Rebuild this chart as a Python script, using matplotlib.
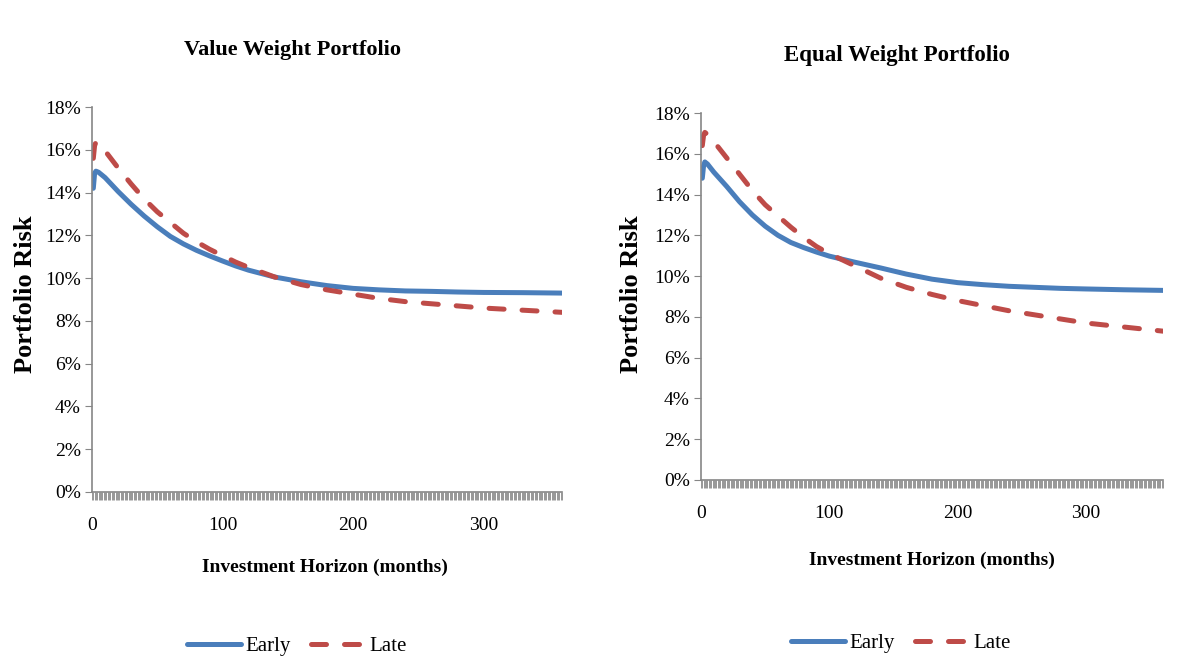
import numpy as np
import matplotlib
matplotlib.use('Agg')
import matplotlib.pyplot as plt
from matplotlib.ticker import FixedLocator, PercentFormatter

plt.rcParams['font.family'] = ['Liberation Serif', 'DejaVu Serif']

# meses donde se leyeron los valores
meses = [1, 2, 3, 5, 10, 20, 30, 40, 50, 60, 70, 80, 90, 100, 110, 120, 140, 160,
         180, 200, 220, 240, 260, 280, 300, 330, 360]

# riesgo del portafolio (%) - Value Weight
vw_early = [14.2, 14.9, 15.0, 14.95, 14.7, 14.05, 13.45, 12.9, 12.4, 11.95, 11.6, 11.3,
            11.04, 10.8, 10.57, 10.37, 10.05, 9.83, 9.65, 9.52, 9.45, 9.4, 9.38, 9.35,
            9.33, 9.32, 9.3]
vw_late = [15.6, 16.2, 16.35, 16.3, 15.95, 15.15, 14.4, 13.7, 13.1, 12.6, 12.1, 11.7,
           11.35, 11.05, 10.75, 10.5, 10.05, 9.7, 9.45, 9.25, 9.05, 8.9, 8.8, 8.7,
           8.6, 8.5, 8.4]

# riesgo del portafolio (%) - Equal Weight
ew_early = [14.8, 15.4, 15.6, 15.5, 15.1, 14.4, 13.65, 13.0, 12.45, 12.0, 11.65, 11.4,
            11.18, 10.98, 10.83, 10.68, 10.4, 10.1, 9.85, 9.68, 9.58, 9.5, 9.45, 9.4,
            9.37, 9.33, 9.3]
ew_late = [16.4, 16.9, 17.05, 16.95, 16.6, 15.8, 15.0, 14.2, 13.5, 12.95, 12.4, 11.9,
           11.45, 11.1, 10.8, 10.5, 9.9, 9.45, 9.1, 8.8, 8.55, 8.3, 8.1, 7.9, 7.7,
           7.5, 7.3]

titulos = ['Value Weight Portfolio', 'Equal Weight Portfolio']
xticks = [0, 100, 200, 300]
yticks = [0, 2, 4, 6, 8, 10, 12, 14, 16, 18]

azul = '#4A7EBB'
rojo = '#BE4B48'
gris = '#868686'

W, H = 1193, 667
fig = plt.figure(figsize=(W / 100, H / 100), dpi=100)

# cajas de los ejes en pixeles: izq, der, abajo, arriba
cajas = [(92, 562, 492, 107), (701, 1163, 480, 113)]
datos = [(vw_early, vw_late), (ew_early, ew_late)]
pos_titulo = [(292, 50, 16), (897, 55, 16.5)]
pos_xlabel = [(325, 567), (932, 560)]
pos_ylabel = [(26, 294), (631, 294)]
pos_leyenda = [(297, 646), (901, 643)]

for i in range(2):
    x0, x1, yb, yt = cajas[i]
    ax = fig.add_axes([x0 / W, 1 - yb / H, (x1 - x0) / W, (yb - yt) / H])
    early, late = datos[i]
    l1, = ax.plot(meses, early, color=azul, lw=3.6, solid_capstyle='round',
                  solid_joinstyle='round', label='Early')
    l2, = ax.plot(meses, late, color=rojo, lw=3.6, dashes=(3, 3.6), dash_capstyle='round',
                  label='Late')
    ax.set_xlim(0, 360)
    ax.set_ylim(0, 18)
    ax.yaxis.set_major_locator(FixedLocator(yticks))
    ax.yaxis.set_major_formatter(PercentFormatter(decimals=0))
    ax.xaxis.set_major_locator(FixedLocator(xticks))
    ax.xaxis.set_minor_locator(FixedLocator(np.arange(1, 361)))
    for lado in ['top', 'right']:
        ax.spines[lado].set_visible(False)
    for lado in ['left', 'bottom']:
        ax.spines[lado].set_color(gris)
        ax.spines[lado].set_linewidth(1.2)
    ax.tick_params(axis='y', length=5, color=gris, labelsize=14, pad=3)
    ax.tick_params(axis='x', which='both', length=6, width=0.6, color=gris,
                   labelsize=14, pad=12)

    fig.text(pos_titulo[i][0] / W, 1 - pos_titulo[i][1] / H, titulos[i],
             fontsize=pos_titulo[i][2], fontweight='bold', ha='center', va='center')
    fig.text(pos_xlabel[i][0] / W, 1 - pos_xlabel[i][1] / H, 'Investment Horizon (months)',
             fontsize=14, fontweight='bold', ha='center', va='center')
    fig.text(pos_ylabel[i][0] / W, 1 - pos_ylabel[i][1] / H, 'Portfolio Risk',
             fontsize=19, fontweight='bold', ha='center', va='center', rotation=90)
    fig.legend(handles=[l1, l2], loc='center',
               bbox_to_anchor=(pos_leyenda[i][0] / W, 1 - pos_leyenda[i][1] / H),
               ncol=2, frameon=False, fontsize=15, handlelength=2.6,
               handletextpad=0.2, columnspacing=1.0)

fig.savefig('out.png', dpi=100)
